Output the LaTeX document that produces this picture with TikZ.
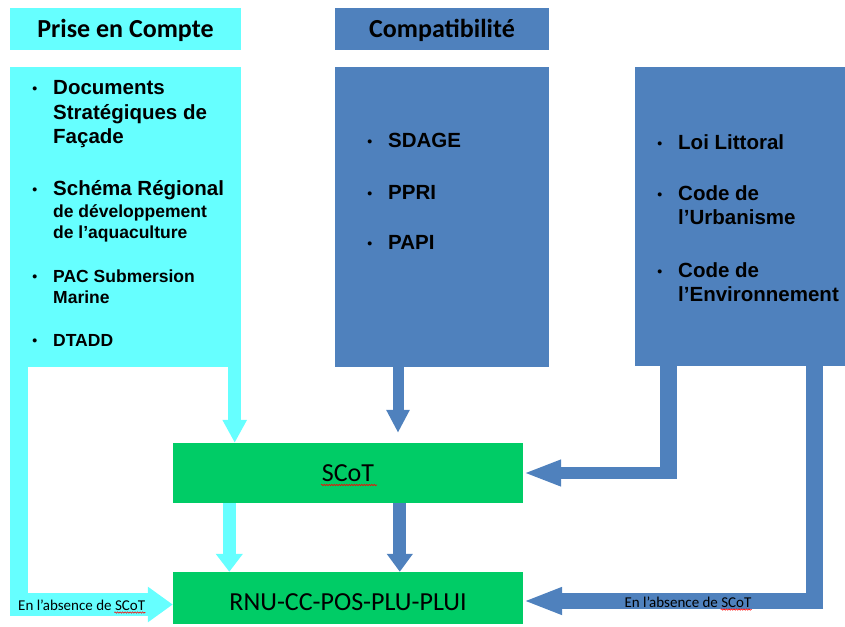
\documentclass[tikz,border=0pt]{standalone}
\usepackage{fontspec}
\setmainfont{Liberation Sans}
\newfontfamily\calfont{Carlito}
\usetikzlibrary{arrows.meta,calc,decorations.pathmorphing}
\definecolor{cyanfill}{HTML}{66FFFF}
\definecolor{bluefill}{HTML}{4F81BD}
\definecolor{greenfill}{HTML}{00CC66}
\tikzstyle{panel}=[rectangle, inner sep=0pt, anchor=center]
\tikzstyle{head}=[panel, minimum height=42pt, text height=17pt, text depth=0pt, font=\calfont\bfseries\fontsize{26}{30}\selectfont]
\tikzstyle{plan}=[panel, fill=greenfill, minimum width=350pt, font=\calfont\fontsize{26}{30}\selectfont]
\tikzstyle{itm}=[anchor=base west, inner sep=0pt, align=left, font=\bfseries\fontsize{20.5}{24.5}\selectfont]
\tikzstyle{itmsmall}=[itm, font=\bfseries\fontsize{17.5}{21}\selectfont]
\tikzstyle{note}=[anchor=base west, inner sep=0pt, font=\calfont\fontsize{15}{18}\selectfont]
\tikzstyle{spell}=[draw=red, line width=0.6pt, decorate, decoration={snake, amplitude=0.7pt, segment length=2.5pt}]
\tikzstyle{cyanflow}=[draw=cyanfill]
\tikzstyle{blueflow}=[draw=bluefill]
\newcommand{\bul}{\llap{\raisebox{1pt}{\fontsize{14}{14}\selectfont\textbullet}\hspace{16pt}}}
\begin{document}
\begin{tikzpicture}[x=1pt, y=-1pt]
	\useasboundingbox (0,0) rectangle (845,626);

	\node[head, fill=cyanfill, minimum width=231pt] (head1) at (125.5,29) {Prise en Compte};
	\node[head, fill=bluefill, minimum width=214pt] (head2) at (442,29) {Compatibilité};

	\node[panel, fill=cyanfill, minimum width=231pt, minimum height=300pt] (list1) at (125.5,217) {};
	\node[panel, fill=bluefill, minimum width=214pt, minimum height=300pt] (list2) at (442,217) {};
	\node[panel, fill=bluefill, minimum width=210pt, minimum height=299pt] (list3) at (740,216.5) {};

	\node[plan, minimum height=60pt] (scot) at (348,473) {SCoT};
	\node[plan, minimum height=52pt, text height=26pt] (rnu) at (348,598) {RNU-CC-POS-PLU-PLUI};

	% prise en compte (base = last line)
	\node[itm] (dsf) at (53,143.5) {\bul Documents\\Stratégiques de\\Façade};
	\node[itm] (srda) at (53,195) {\bul Schéma Régional};
	\node[itmsmall] (srdb) at (53,238) {de développement\\de l’aquaculture};
	\node[itmsmall] (pac) at (53,303) {\bul PAC Submersion\\Marine};
	\node[itmsmall] (dtadd) at (53,346) {\bul DTADD};

	% compatibilite
	\node[itm] (sdage) at (388,147) {\bul SDAGE};
	\node[itm] (ppri) at (388,199) {\bul PPRI};
	\node[itm] (papi) at (388,249) {\bul PAPI};

	\node[itm] (loi) at (678,149) {\bul Loi Littoral};
	\node[itm] (urba) at (678,224.5) {\bul Code de\\l’Urbanisme};
	\node[itm] (envi) at (678,301.5) {\bul Code de\\l’Environnement};

	% cyan flows
	\coordinate (c1) at ($(list1.south east)+(-6.5,0)$);
	\draw[cyanflow, line width=13pt, -{Triangle[width=23pt,length=23pt]}] (c1) -- (c1 |- scot.north);
	\coordinate (c2) at ($(scot.south west)+(56.5,0)$);
	\draw[cyanflow, line width=13pt, -{Triangle[width=26pt,length=18pt]}] (c2) -- (c2 |- rnu.north);
	\coordinate (cL) at ($(list1.south west)+(9,0)$);
	\draw[cyanflow, line width=18pt] (cL) -- ++(0,249);
	\coordinate (cB) at ($(rnu.west)+(0,6.5)$);
	\draw[cyanflow, line width=23pt, -{Triangle[width=34pt,length=25pt]}] (cB -| list1.west) -- (cB);

	% blue flows
	\coordinate (b1) at ($(list2.south)+(-44,0)$);
	\draw[blueflow, line width=11pt, -{Triangle[width=22pt,length=23pt]}, shorten >=10pt] (b1) -- (b1 |- scot.north);
	\coordinate (b2) at ($(scot.south west)+(227,0)$);
	\draw[blueflow, line width=13pt, -{Triangle[width=25pt,length=18pt]}] (b2) -- (b2 |- rnu.north);
	\coordinate (b3) at ($(list3.south west)+(33.5,0)$);
	\coordinate (k3) at ($(scot.east)+(0,6)$);
	\draw[blueflow, line width=17pt] (b3) -- (b3 |- k3);
	\draw[blueflow, line width=12pt, -{Triangle[width=24pt,length=38pt]}] ($(b3 |- scot.east)+(8.5,0)$) -- (scot.east);
	\coordinate (b4) at ($(list3.south east)+(-30.5,0)$);
	\coordinate (k4) at ($(rnu.east)+(0,11)$);
	\coordinate (r4) at ($(rnu.east)+(0,3)$);
	\draw[blueflow, line width=17pt] (b4) -- (b4 |- k4);
	\draw[blueflow, line width=16pt, -{Triangle[width=25pt,length=39pt]}] ($(b4 |- r4)+(8.5,0)$) -- (r4);

	\node[note] (absA) at (18,610) {En l’absence de SCoT};
	\node[note, anchor=base] (absB) at (688,607) {En l’absence de SCoT};

	\draw[spell] ($(scot.center)+(-27,12)$) -- ++(56,0);
	\draw[spell] ($(absA.base east)+(-31,2.5)$) -- ++(31,0);
	\draw[spell] ($(absB.base east)+(-31,2.5)$) -- ++(31,0);

\end{tikzpicture}
\end{document}
